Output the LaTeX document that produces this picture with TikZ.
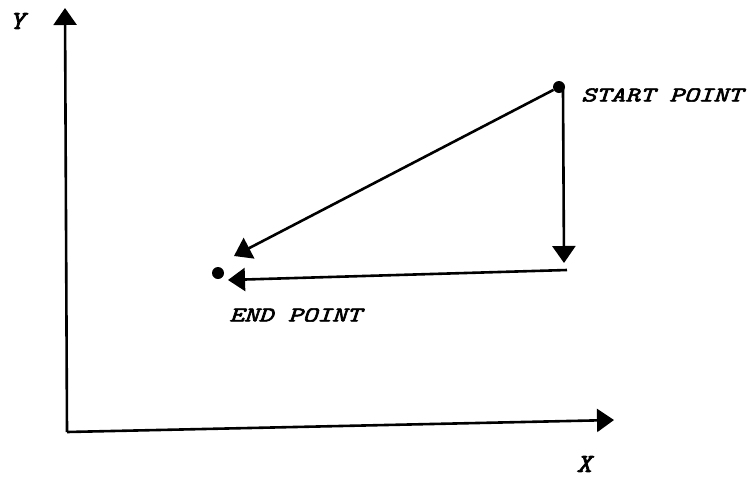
\documentclass[tikz,border=0pt]{standalone}
\usepackage{fontspec}
\newfontfamily\lblfont{Latin Modern Mono}[FakeBold=2.5]
\usetikzlibrary{arrows.meta}
\begin{document}
\begin{tikzpicture}[x=1pt,y=-1pt,
  line/.style={line width=2.6pt},
  arr/.style={line, -{Triangle[length=17pt,width=23pt]}},
  dotpt/.style={circle, fill=black, inner sep=0pt, minimum size=12pt},
  lbl/.style={font=\lblfont\itshape\fontsize{21}{24}\selectfont, inner sep=0pt, anchor=west, xscale=1.33},
  axlbl/.style={font=\lblfont\itshape\fontsize{26}{28}\selectfont, inner sep=0pt, xscale=1.1}]
\useasboundingbox[fill=white] (0,0) rectangle (747,480);
% axes
\coordinate (o) at (67,432);
\coordinate (ytip) at (65,8);
\coordinate (xtip) at (614,420);
\draw[arr] (o) -- (ytip);
\draw[arr] (o) -- (xtip);
\node[axlbl] (ylab) at (17,21) {Y};
\node[axlbl] (xlab) at (584,464) {X};
% points
\node[dotpt] (s) at (559,87) {};
\node[dotpt] (e) at (218,273) {};
\node[lbl] (slab) at (581,95) {START POINT};
\node[lbl] (elab) at (229,315) {END POINT};
% movement arrows
\coordinate (dtip) at (234,256);
\coordinate (vtop) at (563,90);
\coordinate (vtip) at (564,263);
\coordinate (hstart) at (567,270);
\coordinate (htip) at (228,280);
\draw[arr] (s) -- (dtip);
\draw[arr] (vtop) -- (vtip);
\draw[arr] (hstart) -- (htip);
\end{tikzpicture}
\end{document}
